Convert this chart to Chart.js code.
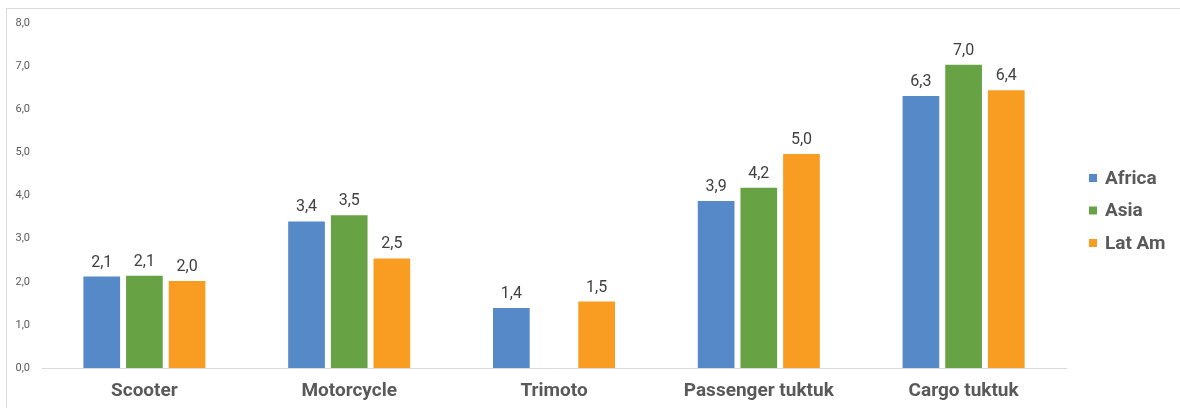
<!DOCTYPE html>
<html>
<head>
<meta charset="utf-8">
<script src="https://cdn.jsdelivr.net/npm/chart.js@4/dist/chart.umd.min.js"></script>
<style>
  html, body { margin: 0; padding: 0; background: #ffffff; }
  #wrap { position: relative; width: 1180px; height: 408px; overflow: hidden; }
  #frame { position: absolute; left: 6px; top: 8px; width: 1200px; height: 500px;
           border-left: 1px solid #d9d9d9; border-top: 1px solid #d9d9d9; pointer-events: none; }
  canvas { position: absolute; left: 0; top: 0; }
</style>
</head>
<body>
<div id="wrap">
  <canvas id="c" width="1180" height="408"></canvas>
  <div id="frame"></div>
</div>
<script>
const categories = ["Scooter", "Motorcycle", "Trimoto", "Passenger tuktuk", "Cargo tuktuk"];
const seriesNames = ["Africa", "Asia", "Lat Am"];
const africa = [2.12, 3.40, 1.39, 3.87, 6.31];
const asia   = [2.14, 3.54, null, 4.18, 7.03];
const latAm  = [2.02, 2.54, 1.54, 4.96, 6.44];
const seriesColors = ["#5589C8", "#67A344", "#F89C22"];
const yTicks = [0, 1, 2, 3, 4, 5, 6, 7, 8];

const fmt = v => v.toFixed(1).replace(".", ",");

const valueLabels = {
  id: "valueLabels",
  afterDatasetsDraw(chart) {
    const ctx = chart.ctx;
    ctx.save();
    ctx.font = "16px Roboto";
    ctx.fillStyle = "#404040";
    ctx.textAlign = "center";
    ctx.textBaseline = "alphabetic";
    chart.data.datasets.forEach((ds, i) => {
      const meta = chart.getDatasetMeta(i);
      meta.data.forEach((el, j) => {
        const v = ds.data[j];
        if (v === null || v === undefined) return;
        ctx.fillText(fmt(v), el.x, el.y - 10);
      });
    });
    ctx.restore();
  }
};

const sideLegend = {
  id: "sideLegend",
  afterDraw(chart) {
    const ctx = chart.ctx;
    ctx.save();
    ctx.font = "bold 19px Roboto";
    ctx.textBaseline = "middle";
    ctx.textAlign = "left";
    const x0 = 1089, yStart = 178, step = 32.5;
    chart.data.datasets.forEach((ds, i) => {
      const y = yStart + i * step;
      ctx.fillStyle = ds.backgroundColor;
      ctx.fillRect(x0, y - 4, 8, 8);
      ctx.fillStyle = "#595959";
      ctx.fillText(ds.label, x0 + 16, y + 1);
    });
    ctx.restore();
  }
};

new Chart(document.getElementById("c"), {
  type: "bar",
  data: {
    labels: categories,
    datasets: [
      { label: seriesNames[0], data: africa, backgroundColor: seriesColors[0] },
      { label: seriesNames[1], data: asia,   backgroundColor: seriesColors[1] },
      { label: seriesNames[2], data: latAm,  backgroundColor: seriesColors[2] }
    ]
  },
  options: {
    responsive: false,
    animation: false,
    devicePixelRatio: 1,
    datasets: { bar: { categoryPercentage: 0.625, barPercentage: 0.86 } },
    layout: { padding: { left: 0, right: 114, top: 23, bottom: 0 } },
    plugins: {
      legend: { display: false },
      tooltip: { enabled: false }
    },
    scales: {
      x: {
        grid: { display: false, drawTicks: false },
        border: { display: true, color: "#d9d9d9", width: 1 },
        ticks: { color: "#595959", font: { family: "Roboto", size: 19, weight: "bold" }, padding: 12, maxRotation: 0 },
        afterFit(scale) { scale.height = 40; }
      },
      y: {
        min: 0, max: 8,
        afterBuildTicks(scale) { scale.ticks = yTicks.map(v => ({ value: v })); },
        grid: { display: false, drawTicks: false },
        border: { display: false },
        ticks: { color: "#595959", font: { family: "Roboto", size: 11 }, padding: 12,
                 callback: v => fmt(v) },
        afterFit(scale) { scale.width = 42; }
      }
    }
  },
  plugins: [valueLabels, sideLegend]
});
</script>
</body>
</html>
